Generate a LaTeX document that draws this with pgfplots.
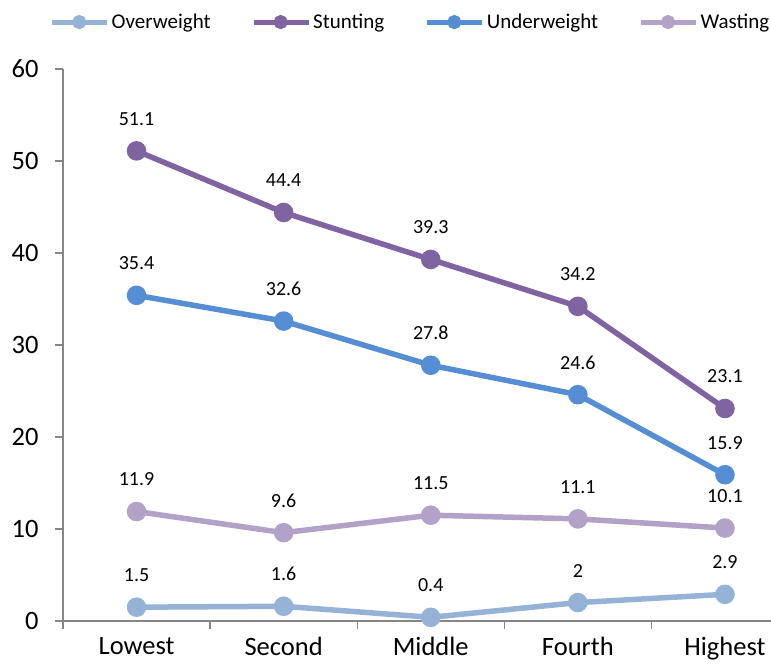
\documentclass[border=0pt]{standalone}
\usepackage{fontspec}
\setmainfont{Carlito}
\usepackage{pgfplots}
\pgfplotsset{compat=1.18}
\definecolor{cOver}{RGB}{149,179,215}
\definecolor{cStunt}{RGB}{128,100,162}
\definecolor{cUnder}{RGB}{85,142,213}
\definecolor{cWaste}{RGB}{179,162,199}
\definecolor{axgray}{RGB}{134,134,134}
\begin{document}
\begin{tikzpicture}
\begin{axis}[
 at={(0pt,0pt)}, anchor=south west,
 scale only axis, width=708pt, height=552pt,
 xmin=-0.5, xmax=4.313, ymin=0, ymax=60,
 clip=false,
 axis lines*=left,
 axis line style={draw=axgray, line width=1.3pt},
 ytick={0,10,...,60},
 xtick={-0.5,0.5,1.5,2.5,3.5}, xticklabels={},
 extra x ticks={0,1,2,3,4},
 extra x tick labels={Lowest,Second,Middle,Fourth,Highest},
 extra x tick style={major tick length=0pt},
 tick align=outside, major tick length=8pt,
 tick style={draw=axgray, line width=1.3pt},
 ticklabel style={font=\fontsize{26.5}{30}\selectfont},
 xticklabel style={yshift=-15pt, inner sep=1pt},
 yticklabel style={xshift=-13pt},
 /pgf/number format/assume math mode=true,
 /pgf/number format/fixed,
 /pgf/number format/precision=1,
 nodes near coords,
 every node near coord/.append style={anchor=center, yshift=32pt, font=\fontsize{20}{24}\selectfont, text=black},
 every axis plot/.append style={line width=5.5pt, mark=*, mark size=7pt},
 legend columns=4,
 legend style={draw=none, fill=none, at={(rel axis cs:-0.019,1.085)}, anchor=west,
   font=\fontsize{21}{25}\selectfont, inner xsep=0pt,
   /tikz/every even column/.append style={column sep=38.5pt}},
 legend image code/.code={\draw[mark repeat=2,mark phase=2,#1,line width=5pt,mark size=4.5pt] plot coordinates {(0pt,0pt) (27pt,0pt) (55pt,0pt)};},
]
\addplot[color=cOver] coordinates {(0,1.5) (1,1.6) (2,0.4) (3,2) (4,2.9)};
\addlegendentry{Overweight}
\addplot[color=cStunt] coordinates {(0,51.1) (1,44.4) (2,39.3) (3,34.2) (4,23.1)};
\addlegendentry{Stunting}
\addplot[color=cUnder] coordinates {(0,35.4) (1,32.6) (2,27.8) (3,24.6) (4,15.9)};
\addlegendentry{Underweight}
\addplot[color=cWaste] coordinates {(0,11.9) (1,9.6) (2,11.5) (3,11.1) (4,10.1)};
\addlegendentry{Wasting}
\end{axis}
\pgfresetboundingbox
\useasboundingbox (-63pt,-45pt) rectangle (708pt,621pt);
\end{tikzpicture}
\end{document}
